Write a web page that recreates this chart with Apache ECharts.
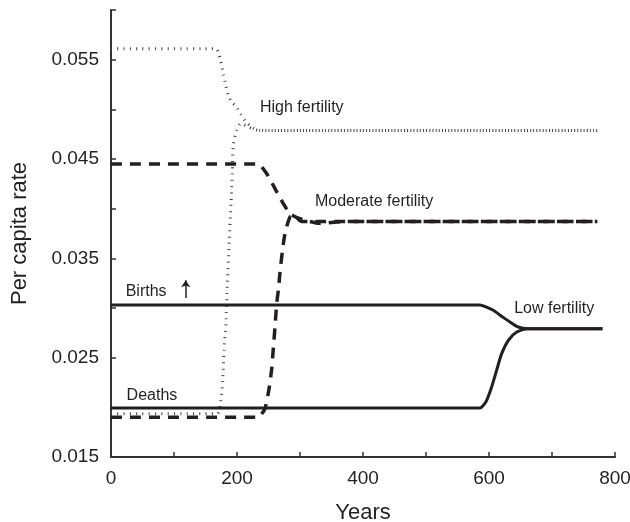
<!DOCTYPE html>
<html>
<head>
<meta charset="utf-8">
<script src="https://cdn.jsdelivr.net/npm/echarts@6/dist/echarts.min.js"></script>
<style>
html,body{margin:0;padding:0;background:#fff;overflow:hidden;}
#chart{width:630px;height:522px;}
</style>
</head>
<body>
<div id="chart"></div>
<script>
// ---- data: [year, per capita rate] ----
var highBirths = [[0,0.0561],[167,0.0561],[170.3,0.05566],[174.1,0.05493],[178.3,0.05349],[181,0.05275],[186.2,0.05141],[191.6,0.05073],[199.5,0.05023],[206.3,0.04949],[212.7,0.04889],[223.8,0.04819],[236.5,0.04788],[772,0.04788]];
var highDeaths = [[0,0.01935],[168,0.01935],[174.1,0.02054],[177.3,0.02272],[179.4,0.02574],[182.5,0.02846],[184.6,0.03238],[187.8,0.03681],[190.5,0.04054],[192.5,0.04356],[194.1,0.04638],[199.5,0.04790],[206.3,0.04859],[217.5,0.04822],[236.5,0.04788],[772,0.04788]];
var modBirths = [[0,0.0445],[232,0.0445],[247.1,0.04353],[260.3,0.04202],[273.5,0.04051],[284.1,0.0395],[295,0.0391],[307.9,0.03883],[331.7,0.03852],[358.3,0.03865],[380,0.03872],[772,0.03872]];
var modDeaths = [[0,0.0190],[233,0.0190],[238,0.01925],[244.4,0.01987],[251.3,0.02205],[255.1,0.0239],[257.6,0.02591],[260.3,0.02809],[263,0.03044],[265.6,0.03178],[268.3,0.03362],[271.9,0.03563],[276.2,0.03749],[284.1,0.03916],[290.5,0.03933],[302.7,0.03872],[772,0.03872]];
var lowBirths = [[0,0.0303],[585.7,0.0303],[596,0.03008],[606.8,0.02977],[616,0.02935],[625.4,0.02893],[635,0.02852],[644,0.02816],[652,0.02800],[662.4,0.02792],[780,0.02792]];
var lowDeaths = [[0,0.01993],[585.7,0.01993],[591,0.02020],[596.3,0.02071],[604.2,0.02205],[612.1,0.02373],[620.1,0.02541],[630.7,0.02675],[644,0.02758],[662.4,0.02792],[780,0.02792]];
var yTickLabels = ['0.015','0.025','0.035','0.045','0.055'];
var xTickLabels = ['0','200','400','600','800'];
var noteTexts = ['High fertility','Moderate fertility','Births','Deaths','Low fertility'];
var noteYears = [236.5, 323.8, 23.3, 24.8, 640];
var noteValues = [0.0502, 0.0407, 0.0317, 0.0212, 0.0299];
var arrowYear = 118.6;
var arrowFrom = 0.0310, arrowTo = 0.0328;

var FONT = "'Liberation Sans', Arial, Helvetica, sans-serif";
var INK = '#231f20';

var chart = echarts.init(document.getElementById('chart'), null, {renderer:'canvas', width:630, height:522});

function lineSeries(data, type, width, color) {
  return {
    type: 'line', data: data, showSymbol: false, symbol: 'none', smooth: 0.25,
    lineStyle: {color: color, width: width, type: type, cap: 'butt'},
    z: 3, silent: true
  };
}

var noteData = noteTexts.map(function (t, i) { return {name: t, value: [noteYears[i], noteValues[i]]}; });

var option = {
  animation: false,
  backgroundColor: '#fff',
  grid: {left: 111, right: 15, top: 10, bottom: 65, containLabel: false, outerBoundsMode: 'none'},
  xAxis: {
    type: 'value', min: 0, max: 800, interval: 100,
    name: 'Years', nameLocation: 'middle', nameGap: 45,
    nameTextStyle: {fontFamily: FONT, fontSize: 22, color: INK},
    axisLine: {show: true, lineStyle: {color: '#333', width: 2}},
    axisTick: {show: true, inside: true, length: 5, lineStyle: {color: '#333', width: 1.5}},
    axisLabel: {
      margin: 12, fontFamily: FONT, fontSize: 19, color: INK, hideOverlap: false,
      formatter: function (v) { var s = String(Math.round(v)); return xTickLabels.indexOf(s) >= 0 ? s : ''; }
    },
    splitLine: {show: false}
  },
  yAxis: {
    type: 'value', min: 0.015, max: 0.06, interval: 0.005,
    name: 'Per capita rate', nameLocation: 'middle', nameGap: 80,
    nameTextStyle: {fontFamily: FONT, fontSize: 22, color: INK},
    axisLine: {show: true, lineStyle: {color: '#333', width: 2}},
    axisTick: {show: true, inside: true, length: 5, lineStyle: {color: '#333', width: 1.5}},
    axisLabel: {
      margin: 12, fontFamily: FONT, fontSize: 19, color: INK, hideOverlap: false,
      formatter: function (v) { var s = v.toFixed(3); return yTickLabels.indexOf(s) >= 0 ? s : ''; }
    },
    splitLine: {show: false}
  },
  series: [
    lineSeries(highBirths, [1, 5.3], 3, '#444'),
    lineSeries(highDeaths, [1, 5.3], 3, '#444'),
    lineSeries(modBirths, [11, 8], 3.5, INK),
    lineSeries(modDeaths, [11, 8], 3.5, INK),
    lineSeries(lowBirths, 'solid', 3, INK),
    lineSeries(lowDeaths, 'solid', 3, INK),
    {
      type: 'scatter', data: noteData, symbolSize: 0, silent: true, z: 5,
      itemStyle: {opacity: 1},
      label: {show: true, position: 'right', distance: 0, formatter: '{b}',
        fontFamily: FONT, fontSize: 16, color: INK, opacity: 1, verticalAlign: 'middle'}
    },
    {
      type: 'lines', coordinateSystem: 'cartesian2d', silent: true, z: 5,
      symbol: ['none', 'arrow'], symbolSize: 7,
      lineStyle: {color: INK, width: 1.5, opacity: 1},
      data: [{coords: [[arrowYear, arrowFrom], [arrowYear, arrowTo]]}]
    }
  ]
};
chart.setOption(option);
</script>
</body>
</html>
